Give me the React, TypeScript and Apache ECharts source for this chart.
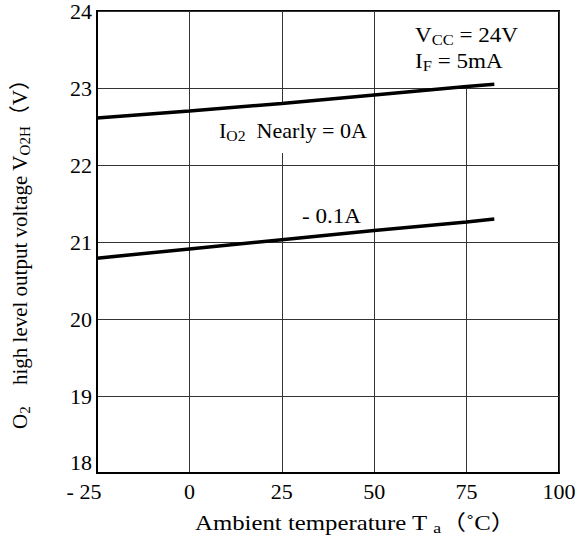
import React, { useEffect, useRef } from "react";
import * as echarts from "echarts";

const xTicks = [-25, 0, 25, 50, 75, 100];
const yRange = [18, 24];
const lineZeroA: [number, number][] = [
  [-25, 22.61], [0, 22.7], [25, 22.8], [50, 22.91], [75, 23.02], [82.5, 23.05],
];
const lineMinus01A: [number, number][] = [
  [-25, 20.79], [0, 20.91], [25, 21.03], [50, 21.15], [75, 21.26], [82.5, 21.3],
];
const labelZeroA = "{m|I}{s|O2}{m|  Nearly = 0A}";
const labelMinus01A = "- 0.1A";
const labelVcc = "{m|V}{s|CC}{m| = 24V}";
const labelIf = "{m|I}{s|F}{m| = 5mA}";
const yTitle = "{m|O}{s|2}{m|    high level output voltage V}{s|O2H}{m|（V）}";
const xTitle = "{m|Ambient temperature T }{s|a}{m|（˚C）}";

const FONT = "'Liberation Serif', 'Times New Roman', 'Noto Sans CJK SC', serif";

const rich = (size: number) => ({
  m: { fontFamily: FONT, fontSize: size, lineHeight: 24, verticalAlign: "middle", fill: "#000", color: "#000" },
  s: { fontFamily: FONT, fontSize: size - 6, lineHeight: 12, verticalAlign: "bottom", fill: "#000", color: "#000" },
});

export default function App() {
  const ref = useRef<HTMLDivElement>(null);
  useEffect(() => {
    if (!ref.current) return;
    const chart = echarts.init(ref.current, null, { renderer: "svg" });
    chart.setOption({
      animation: false,
      backgroundColor: "#fff",
      grid: {
        left: 97, right: 20, top: 10, bottom: 69,
        show: true, borderColor: "#000", borderWidth: 2, backgroundColor: "transparent",
      },
      xAxis: {
        type: "value",
        min: xTicks[0], max: xTicks[xTicks.length - 1], interval: 25,
        axisLine: { show: true, onZero: false, lineStyle: { color: "#000", width: 2 } },
        axisTick: { show: false },
        splitLine: { show: true, lineStyle: { color: "#333", width: 1 } },
        axisLabel: {
          color: "#000", fontFamily: FONT, fontSize: 22, margin: 7,
          formatter: (v: number) => (v === -25 ? "{n|- 25}" : String(v)),
          rich: { n: { fontFamily: FONT, fontSize: 22, color: "#000", padding: [0, 26, 0, 0] } },
        },
      },
      yAxis: {
        type: "value",
        min: yRange[0], max: yRange[1], interval: 1,
        axisLine: { show: true, onZero: false, lineStyle: { color: "#000", width: 2 } },
        axisTick: { show: false },
        splitLine: { show: true, lineStyle: { color: "#333", width: 1 } },
        axisLabel: {
          color: "#000", fontFamily: FONT, fontSize: 22, margin: 5,
          formatter: (v: number) => (v === yRange[0] ? "{r|" + v + "}" : String(v)),
          rich: { r: { fontFamily: FONT, fontSize: 22, color: "#000", padding: [0, 0, 22, 0] } },
        },
      },
      series: [
        {
          type: "line", data: lineZeroA, symbol: "none", z: 3,
          lineStyle: { color: "#000", width: 3.5 },
        },
        {
          type: "line", data: lineMinus01A, symbol: "none", z: 3,
          lineStyle: { color: "#000", width: 3.5 },
        },
      ],
      graphic: [
        { type: "rect", z: 1, shape: { x: 405, y: 12, width: 135, height: 73 }, style: { fill: "#fff" } },
        { type: "rect", z: 1, shape: { x: 212, y: 104, width: 158, height: 49 }, style: { fill: "#fff" } },
        { type: "text", z: 5, x: 415, y: 35, scaleX: 1.1, style: { text: labelVcc, rich: rich(21), textVerticalAlign: "middle" } },
        { type: "text", z: 5, x: 415, y: 61, scaleX: 1.1, style: { text: labelIf, rich: rich(21), textVerticalAlign: "middle" } },
        { type: "text", z: 5, x: 219, y: 131, scaleX: 1.05, style: { text: labelZeroA, rich: rich(21), textVerticalAlign: "middle" } },
        { type: "text", z: 5, x: 302, y: 216, scaleX: 1.1, style: { text: labelMinus01A, font: `21px ${FONT}`, fill: "#000", textVerticalAlign: "middle" } },
        { type: "text", z: 5, x: 355, y: 523, scaleX: 1.18, style: { text: xTitle, rich: rich(21), textAlign: "center", textVerticalAlign: "middle" } },
        {
          type: "text", z: 5, x: 20, y: 249, rotation: Math.PI / 2,
          style: { text: yTitle, rich: rich(21), textAlign: "center", textVerticalAlign: "middle" },
        },
      ],
    });
    return () => chart.dispose();
  }, []);
  return <div ref={ref} style={{ width: 579, height: 542, position: "absolute", left: 0, top: 0 }} />;
}
